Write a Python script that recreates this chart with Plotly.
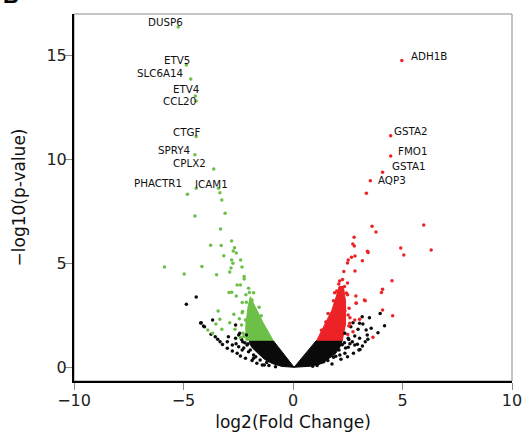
import plotly.graph_objects as go

# ---------------- data ----------------
# dense cores of the cloud (outlines in data units)
black_left_x = [0.05, -0.90, -2.00, -1.90, -1.60, -1.30, -0.95, -0.50, 0.05]
black_left_y = [0.02, 1.30, 1.30, 1.00, 0.69, 0.40, 0.20, 0.06, 0.02]
black_right_x = [0.05, 1.06, 2.25, 2.15, 1.95, 1.65, 1.35, 0.80, 0.05]
black_right_y = [0.02, 1.30, 1.30, 1.00, 0.69, 0.45, 0.21, 0.07, 0.02]
green_core_x = [-0.90, -1.35, -1.73, -1.95, -2.05, -2.15, -2.15]
green_core_y = [1.30, 2.13, 2.93, 3.41, 2.93, 2.13, 1.30]
red_core_x = [1.08, 1.47, 1.77, 2.00, 2.10, 2.30, 2.40, 2.40, 2.25]
red_core_y = [1.30, 2.10, 2.75, 3.50, 3.90, 3.90, 3.20, 2.10, 1.30]

green_x = [-5.24, -4.87, -4.67, -4.46, -4.42, -4.42, -4.48, -3.62, -4.82, -3.40,
           -4.42, -3.34, -3.25, -3.10, -4.48, -3.31, -3.76, -3.28, -2.80, -2.67,
           -2.73, -2.59, -3.16, -2.80, -2.74, -2.39, -2.83, -2.33, -5.87, -4.16,
           -4.97, -3.49, -2.89, -2.23, -2.23, -2.55, -2.40, -2.03, -2.80, -2.59,
           -1.99, -2.92, -2.32, -2.13, -1.87, -3.42, -2.70, -2.32, -3.34, -3.52,
           -2.89, -3.25, -3.67, -3.89, -2.65, -2.35, -2.28, -2.17, -2.10,
           -1.55, -1.45, -1.20, -2.25, -2.30, -1.80, -2.15, -1.60, -2.45, -2.40]
green_y = [16.37, 14.55, 13.88, 13.06, 12.82, 11.11, 10.23, 9.55, 8.34, 8.63,
           8.63, 8.41, 8.06, 7.42, 7.29, 6.67, 5.88, 5.87, 6.09, 5.77,
           5.61, 5.51, 5.38, 5.18, 5.02, 5.18, 4.79, 4.84, 4.84, 4.86,
           4.50, 4.47, 4.60, 4.38, 4.26, 3.98, 3.98, 3.82, 3.63, 3.45,
           3.61, 3.61, 3.13, 3.14, 3.25, 2.73, 2.57, 2.64, 2.33, 2.10,
           2.16, 1.85, 1.65, 1.81, 1.85, 2.05, 1.65, 2.29, 1.89,
           2.90, 2.50, 1.70, 1.50, 2.70, 3.60, 3.50, 2.20, 2.35, 1.45]

red_x = [4.97, 4.46, 4.46, 4.09, 3.53, 3.35, 3.61, 3.79, 5.97, 6.31,
         4.92, 5.06, 2.79, 2.73, 2.80, 3.40, 3.43, 3.17, 2.83, 2.67,
         2.52, 2.49, 2.32, 2.83, 4.52, 4.09, 4.04, 2.26, 2.13, 2.09,
         2.49, 2.00, 2.44, 2.87, 3.26, 2.88, 1.85, 4.09, 4.55, 2.56,
         3.65, 2.07, 2.22, 2.49, 2.00, 2.30, 2.89, 3.30, 2.37, 2.52,
         3.04, 2.74, 2.82, 2.59,
         1.60, 1.50, 1.30, 2.55, 2.50, 2.60, 1.90, 2.35, 2.20]
red_y = [14.76, 11.15, 10.18, 9.39, 8.99, 8.38, 6.80, 6.52, 6.86, 5.66,
         5.75, 5.42, 6.27, 5.95, 5.85, 5.60, 5.54, 5.14, 5.37, 5.31,
         5.18, 5.03, 4.62, 4.65, 4.18, 3.77, 3.61, 4.24, 4.17, 4.02,
         4.07, 3.69, 3.59, 3.45, 3.25, 3.11, 3.22, 2.77, 2.50, 2.86,
         1.46, 3.58, 3.45, 3.50, 3.17, 3.01, 3.10, 3.22, 2.73, 2.53,
         2.33, 1.73, 2.29, 2.13,
         2.60, 2.20, 1.80, 2.00, 1.60, 2.40, 3.60, 3.90, 1.50]

black_x = [-4.42, -4.87, -4.19, -4.09, -3.67, -4.22, -4.04, -3.74, -3.55, -3.44,
           -3.33, -3.22, -3.00, -2.77, -2.55, -2.40, -2.17, -1.87, -1.65, -1.40,
           -2.95, -2.62, -2.48, -2.62, -3.00, -2.77, -2.48, -2.30, -2.10, -2.32,
           -2.03, -1.80, -2.43, -2.13, -1.80, -1.50, -1.31, -1.10, -0.80, -2.20,
           -2.60, -2.25, -1.95, -1.70, -1.20, -2.35, -2.05,
           4.18, 3.88, 3.42, 3.17, 3.06, 2.76, 2.49, 2.19, 1.78, 3.16,
           3.49, 3.98, 3.57, 3.34, 3.04, 3.19, 2.74, 2.64, 2.97, 3.39,
           3.30, 3.04, 2.82, 2.94, 2.71, 2.52, 2.37, 3.01, 2.52, 2.37,
           2.14, 1.85, 1.59, 1.17, 2.82, 0.90, 1.10, 2.35,
           2.60, 2.40, 2.10, 1.95, 1.40, 2.55, 2.25]
black_y = [3.40, 3.05, 2.16, 2.00, 2.29, 2.15, 1.97, 1.61, 1.49, 1.37,
           1.25, 1.11, 0.93, 0.80, 0.69, 0.56, 0.45, 0.34, 0.21, 0.13,
           1.49, 1.41, 1.57, 2.05, 1.25, 1.09, 1.01, 1.25, 1.09, 0.85,
           0.77, 0.61, 1.65, 1.57, 0.45, 0.37, 0.13, 0.10, 0.05, 1.20,
           1.15, 0.95, 0.85, 0.52, 0.25, 1.35, 1.15,
           2.02, 1.68, 1.37, 1.04, 0.88, 0.69, 0.53, 0.40, 0.18, 2.45,
           2.40, 2.61, 1.89, 1.81, 2.13, 2.10, 2.16, 1.97, 1.85, 1.57,
           1.25, 1.41, 1.52, 1.13, 1.25, 1.41, 1.65, 0.85, 0.98, 0.69,
           0.61, 0.50, 0.34, 0.21, 1.09, 0.07, 0.10, 1.20,
           1.15, 0.95, 0.85, 0.55, 0.28, 1.35, 1.10]

gene_names = ["DUSP6", "ETV5", "SLC6A14", "ETV4", "CCL20", "CTGF", "SPRY4",
              "CPLX2", "PHACTR1", "ICAM1",
              "ADH1B", "GSTA2", "FMO1", "GSTA1", "AQP3"]
gene_x = [-5.24, -4.87, -4.67, -4.46, -4.42, -4.42, -4.48, -3.62, -4.82, -3.40,
          4.97, 4.46, 4.46, 4.09, 3.53]
gene_y = [16.37, 14.55, 13.88, 13.06, 12.82, 11.11, 10.23, 9.55, 8.34, 8.63,
          14.76, 11.15, 10.18, 9.39, 8.99]

x_ticks = [-10, -5, 0, 5, 10]
y_ticks = [0, 5, 10, 15]

# ---------------- styles ----------------
GREEN = "#6cbf47"
RED = "#ec2227"
BLACK = "#0a0a0a"
FONT = "DejaVu Sans"
label_shift = {  # pixel offsets of each gene label from its point (dx, dy-up)
    "DUSP6": (-13, 5), "ETV5": (-9, 5), "SLC6A14": (-31, 6), "ETV4": (-9, 7),
    "CCL20": (-17, 0), "CTGF": (-10, 5), "SPRY4": (-21, 5), "CPLX2": (-24, 6),
    "PHACTR1": (-29, 11), "ICAM1": (-7, 4),
    "ADH1B": (27, 5), "GSTA2": (20, 5), "FMO1": (22, 5), "GSTA1": (26, 6),
    "AQP3": (22, 1),
}

fig = go.Figure()

for xs, ys, col in [(black_left_x, black_left_y, BLACK),
                    (black_right_x, black_right_y, BLACK),
                    (green_core_x, green_core_y, GREEN),
                    (red_core_x, red_core_y, RED)]:
    fig.add_trace(go.Scatter(x=xs, y=ys, mode="lines", fill="toself",
                             fillcolor=col, line=dict(color=col, width=1),
                             hoverinfo="skip", showlegend=False))

for xs, ys, col in [(black_x, black_y, BLACK), (green_x, green_y, GREEN),
                    (red_x, red_y, RED)]:
    fig.add_trace(go.Scatter(x=xs, y=ys, mode="markers",
                             marker=dict(color=col, size=3.5, line=dict(width=0)),
                             hoverinfo="skip", showlegend=False))

for name, gx, gy in zip(gene_names, gene_x, gene_y):
    dx, dy = label_shift[name]
    fig.add_annotation(x=gx, y=gy, text=name, showarrow=False,
                       xshift=dx, yshift=dy, xanchor="center", yanchor="middle",
                       font=dict(family=FONT, size=10.3, color="#111"))

# panel letter (mostly cut off at the top edge)
fig.add_annotation(xref="paper", yref="paper", x=-0.166, y=1.012,
                   xanchor="left", yanchor="bottom", showarrow=False,
                   text="<b>B</b>", font=dict(family="Liberation Sans", size=22,
                                                color="#000"))

# light frame (top / right)
fig.add_shape(type="rect", xref="paper", yref="paper", x0=0, x1=1, y0=0, y1=1,
              line=dict(color="#8a8a8a", width=1), layer="below")

axis_common = dict(showgrid=False, zeroline=False, showline=True,
                   linecolor="#000", linewidth=2, ticks="outside", ticklen=7,
                   tickwidth=1, tickcolor="#8a8a8a", automargin=False,
                   tickfont=dict(family=FONT, size=16, color="#222"))

fig.update_layout(
    width=524, height=433,
    margin=dict(l=74, r=12, t=14, b=52, autoexpand=False),
    paper_bgcolor="white", plot_bgcolor="white", hovermode=False,
    xaxis=dict(range=[-10, 10], tickvals=x_ticks, ticklabelstandoff=-3,
               **axis_common,
               title=dict(text="log2(Fold Change)", standoff=7,
                          font=dict(family=FONT, size=17, color="#111"))),
    yaxis=dict(range=[-0.64, 17.0], tickvals=y_ticks, ticklabelstandoff=-5,
               **axis_common,
               title=dict(text="\u2212log10(p-value)", standoff=16,
                          font=dict(family=FONT, size=17, color="#111"))),
)

fig.write_html("out.html", config={"displayModeBar": False},
               post_script="document.body.style.margin='0';")
